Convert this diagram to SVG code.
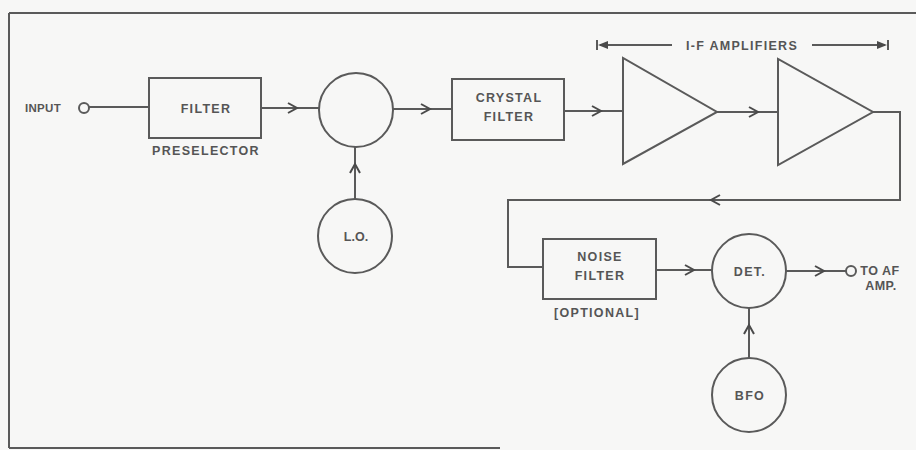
<svg xmlns="http://www.w3.org/2000/svg" xmlns:xlink="http://www.w3.org/1999/xlink" width="916" height="450" viewBox="0 0 916 450">
<style>
.ln{fill:none;stroke:#5a5a5a;stroke-width:2}
.nd{fill:none;stroke:#5a5a5a;stroke-width:2}
.tx{font-family:"Liberation Sans",Arial,sans-serif;font-weight:bold;font-size:12.5px;fill:#555;letter-spacing:1.3px;text-anchor:middle}
.ch{fill:none;stroke:#4a4a4a;stroke-width:2;stroke-linejoin:miter}
</style>
<defs>
<path id="chev" d="M-9,-5 L0,0 L-9,5" class="ch"/>
</defs>
<rect x="0" y="0" width="916" height="450" fill="#f7f7f6"/>
<g id="frame">
<path class="ln" d="M9,13 L916,13 M9,13 L9,448 M9,448 L500,448" stroke-width="2.5"/>
</g>
<g id="connectors">
<path class="ln" d="M89,107 L149,107"/>
<path class="ln" d="M261,108 L319,108"/>
<use xlink:href="#chev" transform="translate(297,108)"/>
<path class="ln" d="M393,109 L452,109"/>
<use xlink:href="#chev" transform="translate(430,109)"/>
<path class="ln" d="M564,111 L623,111"/>
<use xlink:href="#chev" transform="translate(601,111)"/>
<path class="ln" d="M717,112 L778,112"/>
<use xlink:href="#chev" transform="translate(758,112)"/>
<path class="ln" d="M873,112 L900,112 L900,200 L508,200 L508,267 L543,267"/>
<use xlink:href="#chev" transform="translate(711,200) rotate(180)"/>
<path class="ln" d="M355,199 L355,147"/>
<use xlink:href="#chev" transform="translate(355,164) rotate(-90)"/>
<path class="ln" d="M656,270 L712,270"/>
<use xlink:href="#chev" transform="translate(694,270)"/>
<path class="ln" d="M786,271 L846,271"/>
<use xlink:href="#chev" transform="translate(824,271)"/>
<path class="ln" d="M749,358 L749,308"/>
<use xlink:href="#chev" transform="translate(749,325) rotate(-90)"/>
</g>
<g id="input">
<text class="tx" x="43" y="112" style="letter-spacing:0.3px;font-size:11.5px">INPUT</text>
<circle class="nd" cx="84" cy="108" r="5"/>
</g>
<g id="filter">
<rect class="nd" x="149" y="78" width="112" height="60"/>
<text class="tx" x="206" y="113">FILTER</text>
<text class="tx" x="206" y="155">PRESELECTOR</text>
</g>
<g id="mixer">
<circle class="nd" cx="356" cy="110" r="37"/>
</g>
<g id="lo">
<circle class="nd" cx="355" cy="236" r="37"/>
<text class="tx" x="356" y="241" style="letter-spacing:0">L.O.</text>
</g>
<g id="crystal">
<rect class="nd" x="452" y="79" width="112" height="61"/>
<text class="tx" x="509" y="102">CRYSTAL</text>
<text class="tx" x="509" y="121">FILTER</text>
</g>
<g id="amp1">
<polygon class="nd" points="623,58 623,164 717,112"/>
</g>
<g id="amp2">
<polygon class="nd" points="778,59 778,165 873,112"/>
</g>
<g id="if-label">
<path class="ln" d="M597,40 L597,50 M600,45 L672,45 M812,45 L885,45 M888,40 L888,50" stroke-width="1.8"/>
<path d="M598,45 L608,41 L608,49 Z" fill="#4a4a4a"/>
<path d="M887,45 L877,41 L877,49 Z" fill="#4a4a4a"/>
<text class="tx" x="742" y="50">I-F AMPLIFIERS</text>
</g>
<g id="noise">
<rect class="nd" x="543" y="239" width="113" height="60"/>
<text class="tx" x="600" y="261">NOISE</text>
<text class="tx" x="600" y="280">FILTER</text>
<text class="tx" x="597" y="317">[OPTIONAL]</text>
</g>
<g id="det">
<circle class="nd" cx="749" cy="271" r="37"/>
<text class="tx" x="750" y="276">DET.</text>
</g>
<g id="bfo">
<circle class="nd" cx="749" cy="395" r="37"/>
<text class="tx" x="750" y="400">BFO</text>
</g>
<g id="output">
<circle class="nd" cx="851" cy="271" r="5"/>
<text class="tx" x="880" y="275" style="letter-spacing:0.5px">TO AF</text>
<text class="tx" x="881" y="290" style="letter-spacing:0.5px">AMP.</text>
</g>
</svg>
